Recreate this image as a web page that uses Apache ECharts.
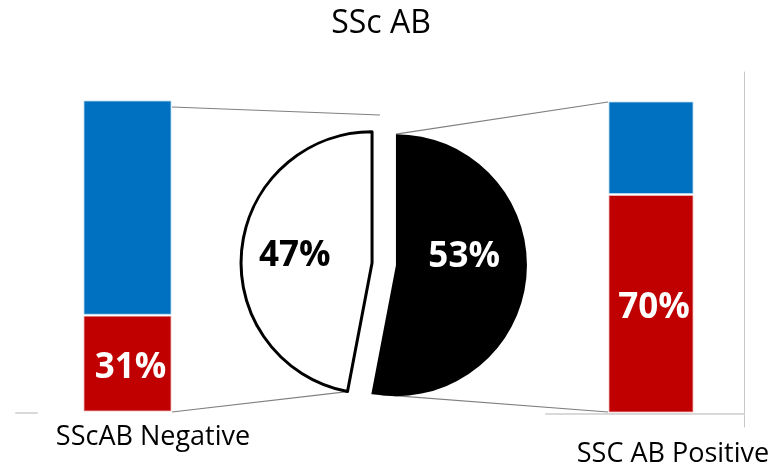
<!DOCTYPE html>
<html>
<head>
<meta charset="utf-8">
<title>SSc AB</title>
<script src="https://cdn.jsdelivr.net/npm/echarts@6/dist/echarts.min.js"></script>
<style>
html, body { margin: 0; padding: 0; background: #fff; }
#chart { width: 784px; height: 472px; }
</style>
</head>
<body>
<div id="chart"></div>
<script>
// pie: split of patients by SSc antibody status
const pieNames = ['SSc AB Positive', 'SScAB Negative']
const pieValues = [53, 47]

// stacked bars: red share and blue remainder per group
const barCategories = ['SScAB Negative', 'SSC AB Positive']
const redValues = [31, 70]
const blueValues = [69, 30]

const titleText = 'SSc AB'

const FONT = "'Open Sans', 'Noto Sans', sans-serif"
const BLUE = '#0070C0'
const RED = '#C00000'

// layout of the pieces
const leftBar = { left: 83, top: 100, width: 89, height: 312 }
const rightBar = { left: 608, top: 101, width: 86, height: 312 }
const pieCenter = [384, 264]
const pieRadius = 131
const pieOffset = 12

const chart = echarts.init(document.getElementById('chart'))

// where each exploded slice ends up, to hook the connector lines on
const total = pieValues[0] + pieValues[1]
const splitDeg = 90 - (pieValues[0] / total) * 360
const blackMid = (90 + splitDeg) / 2
const whiteMid = blackMid + 180
const rad = (d) => (d * Math.PI) / 180
const shift = (deg) => [pieOffset * Math.cos(rad(deg)), -pieOffset * Math.sin(rad(deg))]
const blackC = [pieCenter[0] + shift(blackMid)[0], pieCenter[1] + shift(blackMid)[1]]
const whiteC = [pieCenter[0] + shift(whiteMid)[0], pieCenter[1] + shift(whiteMid)[1]]
const splitVec = [pieRadius * Math.cos(rad(splitDeg)), -pieRadius * Math.sin(rad(splitDeg))]
const blackTop = [blackC[0], blackC[1] - pieRadius]
const blackBottom = [blackC[0] + splitVec[0], blackC[1] + splitVec[1]]
const whiteBottom = [whiteC[0] + splitVec[0], whiteC[1] + splitVec[1]]

const lineStyle = { stroke: '#7f7f7f', lineWidth: 1.2 }
const connector = (a, b) => ({
  type: 'line',
  shape: { x1: a[0], y1: a[1], x2: b[0], y2: b[1] },
  style: lineStyle,
  silent: true,
})

const barLabel = {
  show: true,
  position: 'inside',
  formatter: '{c}%',
  color: '#fff',
  fontFamily: FONT,
  fontWeight: 'bold',
  fontSize: 35,
  offset: [3, 4],
}
const barItem = (color) => ({ color, borderColor: 'rgba(255,255,255,0.6)', borderWidth: 1.5 })

const hiddenAxis = { show: false }
const textStyle = (size) => ({ fontFamily: FONT, fontSize: size, fontWeight: 'normal', color: '#000' })

const option = {
  animation: false,
  backgroundColor: '#fff',
  title: [
    { text: titleText, left: 381, top: 8, textAlign: 'center', padding: 0, textStyle: textStyle(32) },
    { text: barCategories[0], left: 153, top: 424, textAlign: 'center', padding: 0, textStyle: textStyle(27) },
    { text: barCategories[1], left: 673, top: 441, textAlign: 'center', padding: 0, textStyle: textStyle(27) },
  ],
  grid: [
    { left: leftBar.left, top: leftBar.top, width: leftBar.width, height: leftBar.height },
    { left: rightBar.left, top: rightBar.top, width: rightBar.width, height: rightBar.height },
    // stray axis lines round the right bar
    { left: 546, top: 72, width: 198, height: 355 },
    // short stub left of the left bar
    { left: 16, top: 100, width: 21, height: 313 },
  ],
  xAxis: [
    { gridIndex: 0, type: 'category', data: [barCategories[0]], show: false },
    { gridIndex: 1, type: 'category', data: [barCategories[1]], show: false },
    {
      gridIndex: 2, type: 'value', min: 0, max: 1,
      axisLine: { show: true, lineStyle: { color: '#d9d9d9', width: 2 } },
      axisTick: { show: false }, axisLabel: { show: false }, splitLine: { show: false },
    },
    {
      gridIndex: 3, type: 'value', min: 0, max: 1,
      axisLine: { show: true, lineStyle: { color: '#d9d9d9', width: 2 } },
      axisTick: { show: false }, axisLabel: { show: false }, splitLine: { show: false },
    },
  ],
  yAxis: [
    { gridIndex: 0, type: 'value', min: 0, max: 100, show: false },
    { gridIndex: 1, type: 'value', min: 0, max: 100, show: false },
    {
      gridIndex: 2, type: 'value', min: -13, max: 342, position: 'right',
      axisLine: { show: true, onZero: false, lineStyle: { color: '#c8c8c8', width: 1 } },
      axisTick: { show: false }, axisLabel: { show: false }, splitLine: { show: false },
    },
    { gridIndex: 3, type: 'value', min: 0, max: 1, show: false },
  ],
  series: [
    {
      type: 'bar', xAxisIndex: 0, yAxisIndex: 0, stack: 'left', barWidth: '100%',
      data: [redValues[0]], itemStyle: barItem(RED), label: barLabel, silent: true,
    },
    {
      type: 'bar', xAxisIndex: 0, yAxisIndex: 0, stack: 'left', barWidth: '100%',
      data: [blueValues[0]], itemStyle: barItem(BLUE), silent: true,
    },
    {
      type: 'bar', xAxisIndex: 1, yAxisIndex: 1, stack: 'right', barWidth: '100%',
      data: [redValues[1]], itemStyle: barItem(RED), label: barLabel, silent: true,
    },
    {
      type: 'bar', xAxisIndex: 1, yAxisIndex: 1, stack: 'right', barWidth: '100%',
      data: [blueValues[1]], itemStyle: barItem(BLUE), silent: true,
    },
    {
      type: 'pie',
      center: pieCenter,
      radius: pieRadius,
      startAngle: 90,
      clockwise: true,
      selectedMode: 'multiple',
      selectedOffset: pieOffset,
      emphasis: { disabled: true },
      label: {
        show: true,
        position: 'inside',
        formatter: '{c}%',
        fontFamily: FONT,
        fontWeight: 'bold',
        fontSize: 35,
      },
      labelLine: { show: false },
      labelLayout: (params) => (params.dataIndex === 0 ? { dy: -15 } : { dx: -9 }),
      data: [
        {
          name: pieNames[0], value: pieValues[0], selected: true,
          itemStyle: { color: '#000', borderWidth: 0 },
          label: { color: '#fff' },
        },
        {
          name: pieNames[1], value: pieValues[1], selected: true,
          itemStyle: { color: '#fff', borderColor: '#000', borderWidth: 3 },
          label: { color: '#000' },
        },
      ],
    },
  ],
  graphic: [
    connector([leftBar.left + leftBar.width, leftBar.top + 7], [pieCenter[0] - 4, pieCenter[1] - pieRadius - 18]),
    connector([leftBar.left + leftBar.width, leftBar.top + leftBar.height], whiteBottom),
    connector(blackTop, [rightBar.left, rightBar.top + 1]),
    connector(blackBottom, [rightBar.left, rightBar.top + rightBar.height - 1]),
  ],
}

chart.setOption(option)
</script>
</body>
</html>
